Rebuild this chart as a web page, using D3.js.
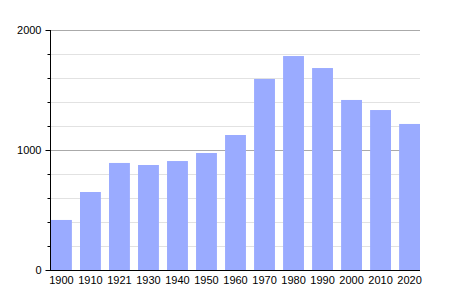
<!DOCTYPE html>
<html>
<head>
<meta charset="utf-8">
<script src="https://cdn.jsdelivr.net/npm/d3@7"></script>
<style>
  body { margin: 0; background: #fff; }
  svg { display: block; font-family: "Liberation Sans", Arial, sans-serif; }
</style>
</head>
<body>
<svg id="chart" width="450" height="300"></svg>
<script>
// données : population par recensement
const years = ["1900", "1910", "1921", "1930", "1940", "1950", "1960", "1970", "1980", "1990", "2000", "2010", "2020"];
const population = [417, 650, 892, 875, 908, 975, 1125, 1592, 1783, 1683, 1417, 1333, 1217];
const majorTicks = [0, 1000, 2000];
const minorTicks = [200, 400, 600, 800, 1200, 1400, 1600, 1800];

const plotLeft = 50, plotRight = 420, plotTop = 30, plotBottom = 270;

const svg = d3.select("#chart");

const x = d3.scaleBand()
    .domain(years)
    .range([plotLeft + 1, plotRight])
    .paddingInner(0.28)
    .paddingOuter(0);

const y = d3.scaleLinear()
    .domain([0, 2000])
    .range([plotBottom, plotTop]);

// grille secondaire
svg.append("g")
  .selectAll("line")
  .data(minorTicks)
  .join("line")
    .attr("x1", plotLeft)
    .attr("x2", plotRight)
    .attr("y1", d => y(d) + 0.5)
    .attr("y2", d => y(d) + 0.5)
    .attr("stroke", "#e2e2e2");

// grille principale
svg.append("g")
  .selectAll("line")
  .data(majorTicks.filter(d => d > 0))
  .join("line")
    .attr("x1", plotLeft)
    .attr("x2", plotRight)
    .attr("y1", d => y(d) + 0.5)
    .attr("y2", d => y(d) + 0.5)
    .attr("stroke", "#aaaaaa");

// barres
svg.append("g")
  .selectAll("rect")
  .data(population)
  .join("rect")
    .attr("x", (d, i) => x(years[i]))
    .attr("y", d => y(d))
    .attr("width", x.bandwidth())
    .attr("height", d => y(0) - y(d))
    .attr("fill", "#9aabff");

// axe y
const yAxis = d3.axisLeft(y)
    .tickValues(majorTicks)
    .tickSize(5)
    .tickPadding(4)
    .tickFormat(d3.format("d"));

svg.append("g")
    .attr("transform", "translate(" + (plotLeft + 0.5) + ",0)")
    .call(yAxis)
    .call(g => g.select(".domain").attr("d", "M0," + plotTop + "V" + plotBottom))
    .call(g => g.selectAll("text").attr("font-size", 11).attr("fill", "#000").attr("font-family", null));

svg.append("g")
    .attr("transform", "translate(" + (plotLeft + 0.5) + ",0)")
    .call(d3.axisLeft(y).tickValues(minorTicks).tickSize(3).tickFormat(""))
    .call(g => g.select(".domain").remove());

// axe x
const xAxis = d3.axisBottom(x)
    .tickSize(0)
    .tickPadding(6);

svg.append("g")
    .attr("transform", "translate(0," + (plotBottom + 0.5) + ")")
    .call(xAxis)
    .call(g => g.select(".domain").attr("d", "M" + plotLeft + ",0H" + plotRight))
    .call(g => g.selectAll("text").attr("font-size", 11).attr("fill", "#000").attr("font-family", null));
</script>
</body>
</html>
